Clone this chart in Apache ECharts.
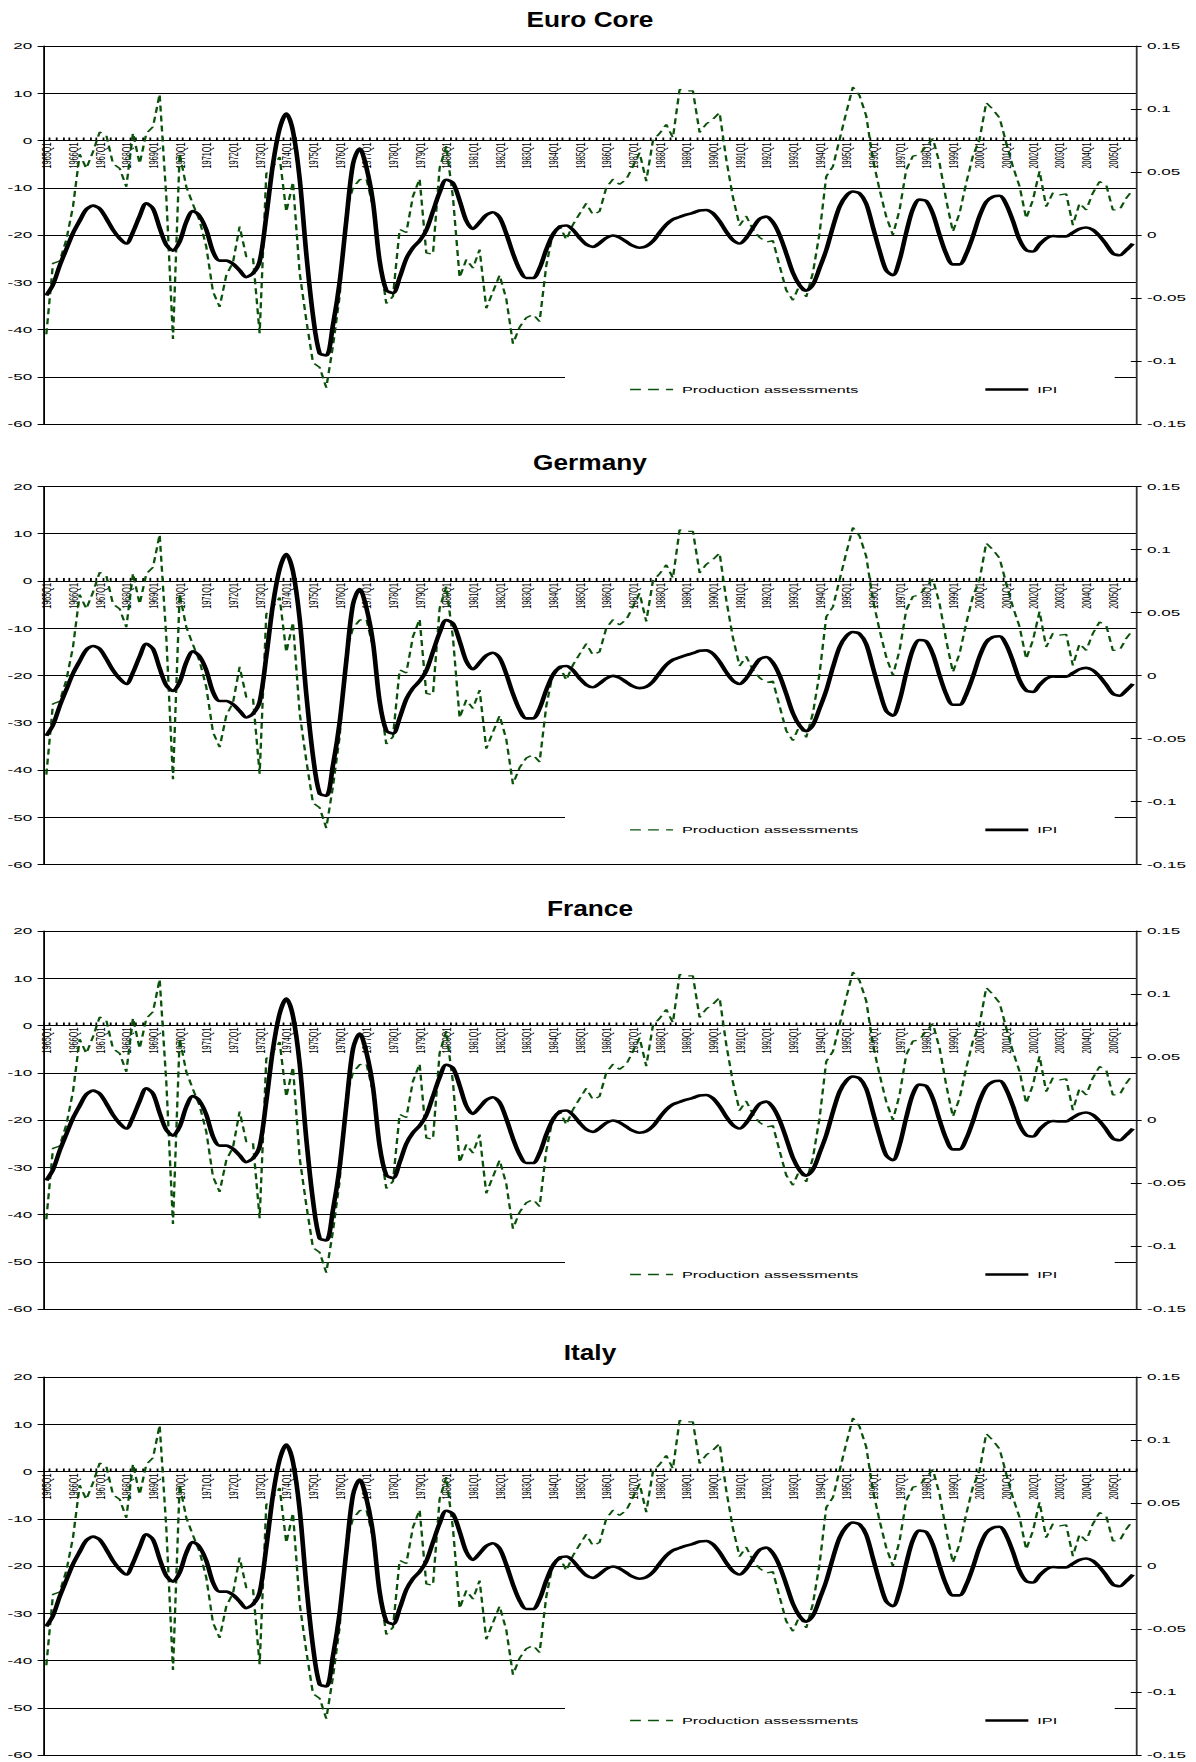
<!DOCTYPE html>
<html><head><meta charset="utf-8">
<script src="https://cdn.jsdelivr.net/npm/echarts@6/dist/echarts.min.js"></script>
<style>
html,body{margin:0;padding:0;background:#fff;}
#wrap{width:1196px;height:1762px;overflow:hidden;position:relative;background:#fff;}
#chart{width:664.44px;height:1762px;transform:scaleX(1.8);transform-origin:0 0;}
</style></head><body><div id="wrap"><div id="chart"></div></div>
<script>
// horizontal stretch of the whole picture (the reference is a horizontally stretched chart)
const S = 1.8;

const panelTitles = ['Euro Core', 'Germany', 'France', 'Italy'];
const years = [];
for (let y = 1965; y <= 2005; y++) years.push(y);
const categories = [];
years.forEach(y => { for (let q = 1; q <= 4; q++) categories.push(y + 'Q' + q); });

const seriesNames = ['Production assessments', 'IPI'];

// Production assessments (balance, left axis), 1965Q1 .. 2005Q4
const productionAssessments = [
  -41, -26, -25.5, -21,
  -14, -2.9, -5.9, -2.4,
  1.8, 1.1, -4.9, -5.9,
  -9.8, 1.6, -4.9, 1.5,
  2.9, 9.8, -12, -42,
  -2.8, -9.8, -13.5, -17,
  -22.5, -32, -35.2, -28.5,
  -25.8, -18.2, -24.6, -24.8,
  -40.8, -7, -5.5, -3.5,
  -15.1, -8.8, -28, -38,
  -47, -48, -52.3, -43.5,
  -33, -15, -10, -8.3,
  -8, -14, -25, -34.5,
  -33, -18.8, -19.5, -11.8,
  -8.1, -23.8, -24.1, -5.8,
  -1.2, -12, -29, -25.2,
  -27, -23.1, -35.5, -32,
  -28.5, -33.5, -43, -39.5,
  -37.5, -36.8, -38.3, -26.5,
  -19.5, -18, -21, -17.8,
  -15.5, -13.3, -15.7, -15,
  -10, -8.2, -9.3, -8.2,
  -5.5, -2.6, -8.6, 0,
  1.5, 3.4, 0.6, 10.8,
  10.5, 10.5, 1.7, 3.5,
  4.5, 5.9, -4, -12,
  -18, -16, -18.8, -20.5,
  -21.5, -21.2, -26.5, -31.7,
  -33.8, -30.6, -33.1, -28,
  -19.6, -7.6, -5.5, 0.2,
  5.9, 11.3, 9.5, 5.2,
  -4, -10.4, -16.1, -20,
  -14.7, -6.2, -3.3, -3,
  -1.2, 0.4, -4.8, -12.6,
  -19.3, -15.4, -9, -3.3,
  0.2, 8, 6.6, 4.8,
  -0.5, -5.5, -9.7, -16.5,
  -12.6, -6.5, -14, -11.1,
  -11.5, -11.3, -17.9, -13.3,
  -14.7, -11.1, -8.7, -9.4,
  -14.7, -14.7, -12.2, -10.4
];

// IPI (growth rate, right axis), 1965Q1 .. 2005Q4
const ipi = [
  -0.048, -0.0394, -0.0244, -0.0113,
  0.0015, 0.0113, 0.0203, 0.0233,
  0.021, 0.0131, 0.0041, -0.0026,
  -0.0068, 0.0023, 0.015, 0.0251,
  0.021, 0.0056, -0.0079, -0.0124,
  -0.0053, 0.0105, 0.0191, 0.015,
  0.0041, -0.0131, -0.0203, -0.0203,
  -0.0229, -0.0281, -0.0334, -0.0304,
  -0.021, 0.015, 0.0563, 0.0844,
  0.0964, 0.0825, 0.045, -0.015,
  -0.0638, -0.0938, -0.0956, -0.0713,
  -0.0375, 0.0113, 0.0563, 0.0686,
  0.054, 0.0263, -0.0206, -0.0439,
  -0.0461, -0.0338, -0.0188, -0.0101,
  -0.0045, 0.0038, 0.0188, 0.0338,
  0.0439, 0.0413, 0.0274, 0.0113,
  0.0049, 0.0101, 0.0158, 0.018,
  0.0139, 0.0011, -0.0146, -0.0274,
  -0.0341, -0.0341, -0.0263, -0.0116,
  0.0004, 0.0064, 0.0075, 0.0041,
  -0.0023, -0.0075, -0.0094, -0.0064,
  -0.0023, -0.0004, -0.0019, -0.0053,
  -0.0086, -0.0101, -0.009, -0.0049,
  0.0019, 0.0083, 0.0124, 0.0143,
  0.0161, 0.0176, 0.0195, 0.0199,
  0.0173, 0.0109, 0.0026, -0.0041,
  -0.0068, -0.0023, 0.0056, 0.0128,
  0.0146, 0.0101, 0, -0.0146,
  -0.03, -0.0398, -0.0443, -0.0394,
  -0.0263, -0.012, 0.0064, 0.0225,
  0.0311, 0.0345, 0.033, 0.0248,
  0.0064, -0.0124, -0.0281, -0.0319,
  -0.0199, 0.0019, 0.0206, 0.0281,
  0.027, 0.0169, 0, -0.015,
  -0.0233, -0.0233, -0.015, -0.0011,
  0.015, 0.0263, 0.0304, 0.0311,
  0.0244, 0.0113, -0.0038, -0.012,
  -0.0131, -0.0075, -0.0026, -0.0008,
  -0.0011, -0.0011, 0.0019, 0.0049,
  0.006, 0.0041, -0.0008, -0.0075,
  -0.0146, -0.0161, -0.012, -0.0068
];

const leftTicks = { min: -60, max: 20, interval: 10 };
const rightTicks = { min: -0.15, max: 0.15, interval: 0.05 };

// layout (full-size pixel units; x is divided by S)
const gridTops = [46, 486.4, 931, 1377];
const gridHeight = 378;
const zeroOffset = gridHeight * (leftTicks.max - 0) / (leftTicks.max - leftTicks.min);
const titleY = [19, 462, 908, 1352];
const FONT = '"Liberation Sans", Arial, sans-serif';
const GREEN = '#0a520a';
const TITLE_PX = 22, TITLE_W = 127; // title font and its drawn width (full px)

const chart = echarts.init(document.getElementById('chart'), null, { renderer: 'svg' });

const grid = [], xAxis = [], yAxis = [], series = [], legend = [], graphic = [];
panelTitles.forEach((title, k) => {
  const g = 2 * k, y0 = 4 * k;
  // main plot grid
  grid.push({ left: 43 / S, right: 59 / S, top: gridTops[k], height: gridHeight });
  xAxis.push({
    type: 'category', gridIndex: g, data: categories, boundaryGap: true, show: false
  });
  // y0: left axis (balance)
  yAxis.push({
    type: 'value', gridIndex: g, position: 'left',
    min: leftTicks.min, max: leftTicks.max, interval: leftTicks.interval,
    axisLine: { show: true, lineStyle: { color: '#000', width: 1 } },
    axisTick: { show: true, length: 3, lineStyle: { color: '#000' } },
    axisLabel: { fontSize: 9.5, color: '#000', margin: 6, fontFamily: FONT },
    splitLine: { show: true, lineStyle: { color: '#000', width: 1 } }
  });
  // y0+1: right axis (growth rate)
  yAxis.push({
    type: 'value', gridIndex: g, position: 'right',
    min: rightTicks.min, max: rightTicks.max, interval: rightTicks.interval,
    axisLine: { show: true, lineStyle: { color: '#333', width: 1 } },
    axisTick: { show: true, length: 3, lineStyle: { color: '#000' } },
    axisLabel: { fontSize: 9.5, color: '#000', margin: 6, fontFamily: FONT },
    splitLine: { show: false }
  });
  // y0+2: inner half of the right axis ticks (ticks cross the axis line)
  yAxis.push({
    type: 'value', gridIndex: g, position: 'right',
    min: rightTicks.min, max: rightTicks.max, interval: rightTicks.interval,
    axisLine: { show: false },
    axisTick: { show: true, inside: true, length: 3, lineStyle: { color: '#000' } },
    axisLabel: { show: false }, splitLine: { show: false }
  });
  // helper grid whose bottom edge is the zero line: carries the category axis
  grid.push({ left: 43 / S, right: 59 / S, top: gridTops[k], height: zeroOffset });
  xAxis.push({
    type: 'category', gridIndex: g + 1, data: categories, boundaryGap: true, position: 'bottom',
    axisLine: { show: true, onZero: false, lineStyle: { color: '#000', width: 1 } },
    axisTick: { show: true, inside: true, length: 3, interval: 0, lineStyle: { color: '#000', width: 1 } },
    axisLabel: { interval: 3, rotate: 90, fontSize: 7.3, margin: 2, color: '#000', fontFamily: FONT, padding: [0, 0, 4, 0] },
    splitLine: { show: false }
  });
  // y0+3: hidden axis of the helper grid
  yAxis.push({ type: 'value', gridIndex: g + 1, show: false, min: 0, max: 1 });

  series.push({
    name: seriesNames[0], type: 'line', xAxisIndex: g, yAxisIndex: y0,
    data: productionAssessments, symbol: 'none', showSymbol: false,
    lineStyle: { color: GREEN, width: 1.3, type: [6, 4] }, itemStyle: { color: GREEN },
    z: 2, silent: true
  });
  series.push({
    name: seriesNames[1], type: 'line', xAxisIndex: g, yAxisIndex: y0 + 1,
    data: ipi, symbol: 'none', showSymbol: false, smooth: 0.3,
    lineStyle: { color: '#000', width: 2.6 }, itemStyle: { color: '#000' },
    z: 3, silent: true
  });
  const legendCommon = {
    top: gridTops[k] + 327, orient: 'horizontal', backgroundColor: '#fff', borderWidth: 0,
    itemGap: 0, itemWidth: 43 / S, itemHeight: 10, selectedMode: false,
    lineStyle: { width: 'inherit' },
    itemStyle: { color: 'rgba(0,0,0,0)', borderWidth: 0 },
    textStyle: { fontSize: 9, color: '#000', fontFamily: FONT }
  };
  legend.push(Object.assign({}, legendCommon, {
    left: 565 / S, padding: [12, 75, 12, 35.5], data: [seriesNames[0]]
  }));
  legend.push(Object.assign({}, legendCommon, {
    left: 983 / S, padding: [12, 32, 12, 0], data: [seriesNames[1]]
  }));
  graphic.push({
    type: 'text', x: 590 / S, y: titleY[k], silent: true,
    scaleX: TITLE_W / (TITLE_PX * 4.834) / S,
    style: { text: title, fill: '#000', font: 'bold ' + TITLE_PX + 'px ' + FONT, textAlign: 'center', textVerticalAlign: 'middle' }
  });
});

chart.setOption({
  animation: false,
  backgroundColor: '#fff',
  grid, xAxis, yAxis, series, legend, graphic
});
</script>
</body></html>
